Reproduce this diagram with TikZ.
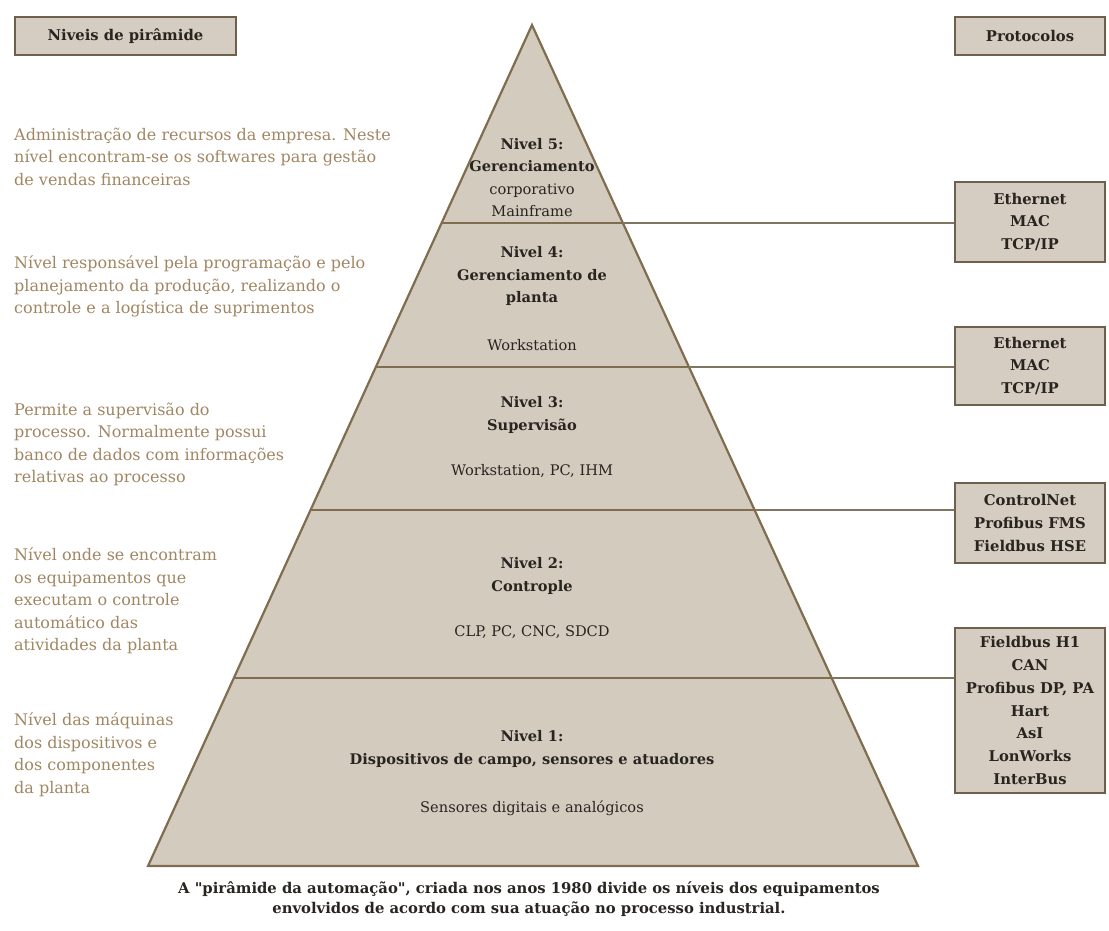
\documentclass[tikz,border=0pt]{standalone}
\usepackage{fontspec}
\setmainfont{DejaVu Serif}
\newfontfamily\rawserif{DejaVu Serif}
\usetikzlibrary{calc}
\definecolor{pyfill}{RGB}{211,203,190}
\definecolor{pyline}{RGB}{128,108,78}
\definecolor{conline}{RGB}{128,116,98}
\definecolor{boxfill}{RGB}{213,205,193}
\definecolor{boxline}{RGB}{110,96,76}
\definecolor{lefttxt}{RGB}{160,134,98}
\definecolor{darktxt}{RGB}{40,36,32}
\newcommand{\straightquote}{{\rawserif\bfseries "}}
\begin{document}
\begin{tikzpicture}[x=1pt,y=-1pt,
  lefttext/.style={anchor=north west, align=left, inner sep=0pt, text=lefttxt, font=\fontsize{16}{22.5}\selectfont},
  pylabel/.style={align=center, inner sep=0pt, text=darktxt, font=\fontsize{14.6}{22.5}\selectfont},
  pytitle/.style={pylabel, font=\bfseries\fontsize{14.6}{22.5}\selectfont},
  protobox/.style={draw=boxline, line width=2pt, fill=boxfill, minimum width=150pt, align=center, text=darktxt, font=\bfseries\fontsize{14.8}{22.8}\selectfont, inner sep=0pt},
  levelline/.style={draw=pyline, line width=2.5pt},
  connector/.style={draw=conline, line width=2pt}]
\useasboundingbox (0,0) rectangle (1109,930);

% pyramid
\coordinate (apex) at (532,25);
\coordinate (bl) at (148,866);
\coordinate (br) at (918,866);
\coordinate (l5) at (441.6,223); \coordinate (r5) at (622.9,223);
\coordinate (l4) at (375.8,367); \coordinate (r4) at (689.0,367);
\coordinate (l3) at (310.6,510); \coordinate (r3) at (754.6,510);
\coordinate (l2) at (233.8,678); \coordinate (r2) at (831.7,678);
\fill[pyfill] (apex) -- (br) -- (bl) -- cycle;
\draw[levelline] (l5) -- (r5);
\draw[levelline] (l4) -- (r4);
\draw[levelline] (l3) -- (r3);
\draw[levelline] (l2) -- (r2);
\draw[pyline, line width=2.2pt, line join=miter] (apex) -- (br) -- (bl) -- cycle;

% header boxes
\node[protobox, minimum width=221pt, minimum height=38pt] (hniveis) at (125.5,36) {Niveis de pirâmide};
\node[protobox, minimum height=38pt] (hproto) at (1030,36) {Protocolos};

% protocol boxes
\node[protobox, minimum height=80pt] (eth1) at (1030,222) {Ethernet\\MAC\\TCP/IP};
\node[protobox, minimum height=78pt] (eth2) at (1030,366) {Ethernet\\MAC\\TCP/IP};
\node[protobox, minimum height=80pt] (ctrl) at (1030,523) {ControlNet\\Profibus FMS\\Fieldbus HSE};
\node[protobox, minimum height=165pt] (field) at (1030,710.5) {Fieldbus H1\\CAN\\Profibus DP, PA\\Hart\\AsI\\LonWorks\\InterBus};

% connectors
\draw[connector] (r5) -- (r5 -| eth1.west);
\draw[connector] (r4) -- (r4 -| eth2.west);
\draw[connector] (r3) -- (r3 -| ctrl.west);
\draw[connector] (r2) -- (r2 -| field.west);

% pyramid labels
\node[pylabel] (n5) at (532,177.5) {\textbf{Nivel 5:}\\\textbf{Gerenciamento}\\corporativo\\Mainframe};
\node[pytitle] (n4) at (532,276) {Nivel 4:\\Gerenciamento de\\planta};
\node[pylabel] (e4) at (532,345) {Workstation};
\node[pytitle] (n3) at (532,415) {Nivel 3:\\Supervisão};
\node[pylabel] (e3) at (532,471) {Workstation, PC, IHM};
\node[pytitle] (n2) at (532,576) {Nivel 2:\\Controple};
\node[pylabel] (e2) at (532,632) {CLP, PC, CNC, SDCD};
\node[pytitle] (n1) at (532,749) {Nivel 1:\\Dispositivos de campo, sensores e atuadores};
\node[pylabel] (e1) at (532,808) {Sensores digitais e analógicos};

% left descriptions
\node[lefttext] (d5) at (14,127.5) {Administração de recursos da empresa. Neste\\nível encontram-se os softwares para gestão\\de vendas financeiras};
\node[lefttext] (d4) at (14,255.5) {Nível responsável pela programação e pelo\\planejamento da produção, realizando o\\controle e a logística de suprimentos};
\node[lefttext] (d3) at (14,402.5) {Permite a supervisão do\\processo. Normalmente possui\\banco de dados com informações\\relativas ao processo};
\node[lefttext] (d2) at (14,547.5) {Nível onde se encontram\\os equipamentos que\\executam o controle\\automático das\\atividades da planta};
\node[lefttext] (d1) at (14,712.5) {Nível das máquinas\\dos dispositivos e\\dos componentes\\da planta};

% caption
\node[align=center, inner sep=0pt, text=darktxt, font=\bfseries\fontsize{14.8}{20.5}\selectfont] (cap) at (529,899) {A \straightquote pirâmide da automação\straightquote, criada nos anos 1980 divide os níveis dos equipamentos\\envolvidos de acordo com sua atuação no processo industrial.};
\end{tikzpicture}
\end{document}
